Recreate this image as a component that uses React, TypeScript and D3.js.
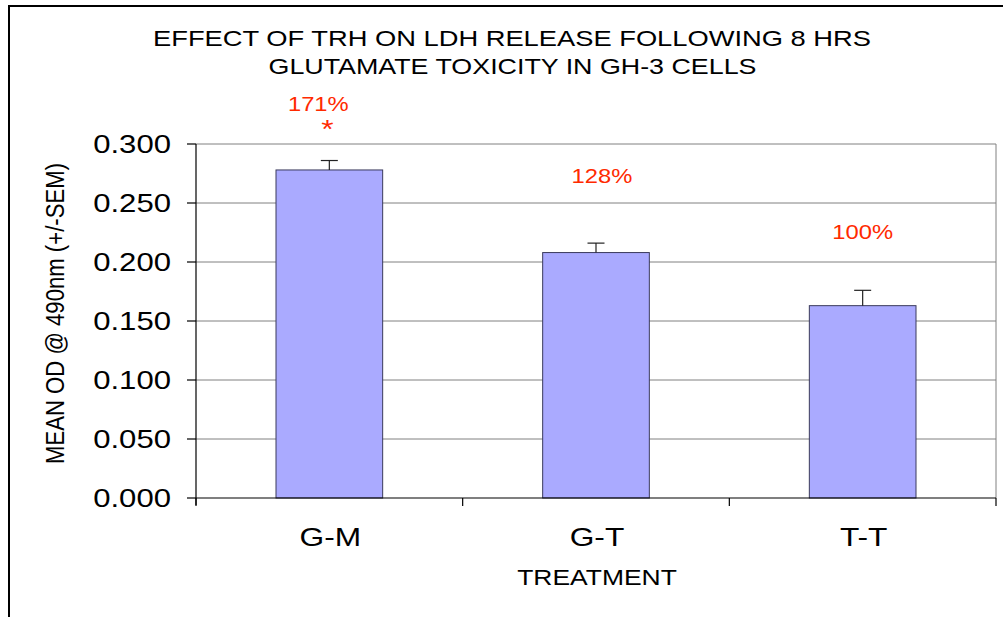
import React from "react";
import * as d3 from "d3";

const categories = ["G-M", "G-T", "T-T"];
const means = [0.278, 0.208, 0.163];
const sems = [0.008, 0.008, 0.013];
const percentLabels = ["171%", "128%", "100%"];
const significance = ["*", "", ""];
const yTicks = [0, 0.05, 0.1, 0.15, 0.2, 0.25, 0.3];
const titleLines = [
  "EFFECT OF TRH ON LDH RELEASE FOLLOWING 8 HRS",
  "GLUTAMATE TOXICITY IN GH-3 CELLS",
];
const xTitle = "TREATMENT";
const yTitle = "MEAN OD @ 490nm (+/-SEM)";

const W = 1003;
const H = 617;
const plot = { left: 196, top: 144, right: 996, bottom: 498 };
const SX = 1.22;
const FONT = "'Liberation Sans', Arial, sans-serif";
const RED = "#ff2a00";

export default function App() {
  const x = d3
    .scaleBand<string>()
    .domain(categories)
    .range([plot.left, plot.right])
    .paddingInner(0.6)
    .paddingOuter(0.3);
  const y = d3.scaleLinear().domain([0, 0.3]).range([plot.bottom, plot.top]);
  const step = x.step();
  const boundaries = d3.range(categories.length + 1).map((i) => plot.left + i * step);

  const annOffsets = [
    { dx: -11, y: 111 },
    { dx: 6, y: 183 },
    { dx: 0, y: 239 },
  ];

  const stretched = (tx: number, ty: number) => `translate(${tx},${ty}) scale(${SX},1)`;

  return (
    <svg
      width={W}
      height={H}
      style={{ position: "absolute", left: 0, top: 0, background: "#fff" }}
      fontFamily={FONT}
    >
      <rect x={0} y={0} width={W} height={H} fill="#fff" />
      {/* outer chart border */}
      <rect x={9} y={6} width={W + 20} height={H + 20} fill="none" stroke="#000" strokeWidth={2} />

      {/* title */}
      <text transform={stretched(512, 46)} textAnchor="middle" fontSize={21.8} fill="#000" textLength={718 / SX} lengthAdjust="spacingAndGlyphs">
        {titleLines[0]}
      </text>
      <text transform={stretched(512.5, 74.3)} textAnchor="middle" fontSize={21.8} fill="#000" textLength={488 / SX} lengthAdjust="spacingAndGlyphs">
        {titleLines[1]}
      </text>

      {/* gridlines */}
      {yTicks
        .filter((v) => v > 0)
        .map((v) => (
          <line
            key={v}
            x1={plot.left}
            x2={plot.right}
            y1={y(v)}
            y2={y(v)}
            stroke="#808080"
            strokeWidth={1}
          />
        ))}
      {/* plot right border */}
      <line x1={plot.right} x2={plot.right} y1={plot.top} y2={plot.bottom} stroke="#808080" strokeWidth={1} />

      {/* bars */}
      {categories.map((c, i) => (
        <rect
          key={c}
          x={x(c)}
          y={y(means[i])}
          width={x.bandwidth()}
          height={plot.bottom - y(means[i])}
          fill="#aaaaff"
          stroke="#3a3a5c"
          strokeWidth={1}
        />
      ))}

      {/* error bars */}
      {categories.map((c, i) => {
        const cx = (x(c) as number) + x.bandwidth() / 2;
        return (
          <g key={c} stroke="#222" strokeWidth={1.2}>
            <line x1={cx} x2={cx} y1={y(means[i])} y2={y(means[i] + sems[i])} />
            <line x1={cx - 8.5} x2={cx + 8.5} y1={y(means[i] + sems[i])} y2={y(means[i] + sems[i])} />
          </g>
        );
      })}

      {/* y axis */}
      <line x1={plot.left} x2={plot.left} y1={plot.top} y2={plot.bottom + 7} stroke="#000" strokeWidth={1.2} />
      {yTicks.map((v) => (
        <g key={v}>
          <line x1={plot.left - 9} x2={plot.left} y1={y(v)} y2={y(v)} stroke="#000" strokeWidth={1.2} />
          <text
            transform={stretched(171, y(v) + 9.2)}
            textAnchor="end"
            fontSize={25.5}
            fill="#000"
          >
            {d3.format(".3f")(v)}
          </text>
        </g>
      ))}

      {/* x axis */}
      <line x1={plot.left} x2={plot.right} y1={plot.bottom} y2={plot.bottom} stroke="#000" strokeWidth={1.2} />
      {boundaries.map((bx, i) => (
        <line key={i} x1={bx} x2={bx} y1={plot.bottom} y2={plot.bottom + 8} stroke="#000" strokeWidth={1.2} />
      ))}
      {categories.map((c) => (
        <text
          key={c}
          transform={stretched((x(c) as number) + x.bandwidth() / 2 + 1, 545.5)}
          textAnchor="middle"
          fontSize={26}
          fill="#000"
        >
          {c}
        </text>
      ))}

      {/* axis titles */}
      <text transform={stretched(597, 585)} textAnchor="middle" fontSize={21.7} fill="#000">
        {xTitle}
      </text>
      <text
        transform={`translate(64,313.5) scale(${SX},1) rotate(-90)`}
        textAnchor="middle"
        fontSize={20.5}
        textLength={301}
        lengthAdjust="spacingAndGlyphs"
        fill="#000"
      >
        {yTitle}
      </text>

      {/* annotations */}
      {categories.map((c, i) => {
        const cx = (x(c) as number) + x.bandwidth() / 2 + annOffsets[i].dx;
        return (
          <g key={c} fill={RED}>
            <text transform={stretched(cx, annOffsets[i].y)} textAnchor="middle" fontSize={19.5}>
              {percentLabels[i]}
            </text>
            {significance[i] && (
              <text transform={stretched(cx + 9, annOffsets[i].y + 27)} textAnchor="middle" fontSize={26}>
                {significance[i]}
              </text>
            )}
          </g>
        );
      })}
    </svg>
  );
}
